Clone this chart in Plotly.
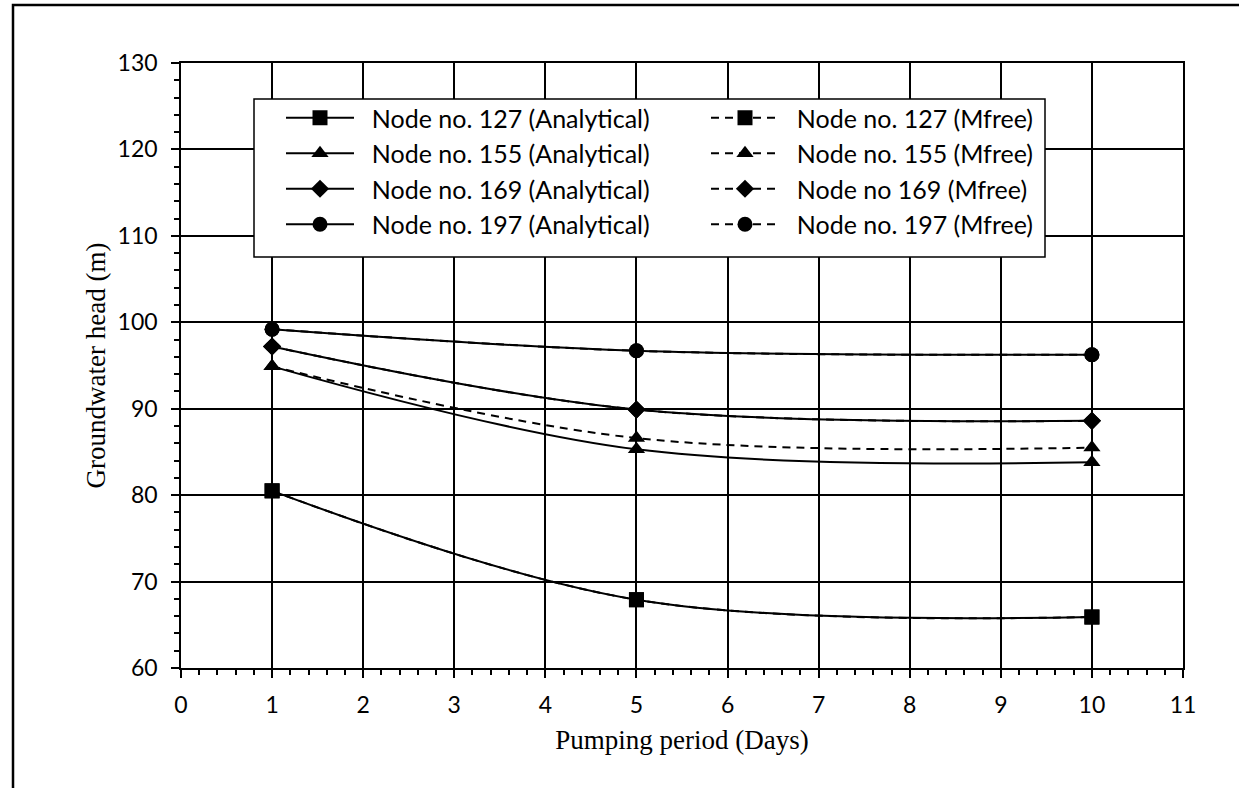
import plotly.graph_objects as go

days = [1, 5, 10]

a127 = [80.5, 67.9, 65.9]
a155 = [94.9, 85.3, 83.8]
a169 = [97.2, 89.9, 88.6]
a197 = [99.2, 96.7, 96.25]

m127 = [80.5, 67.9, 65.9]
m155 = [94.9, 86.6, 85.5]
m169 = [97.2, 89.9, 88.6]
m197 = [99.2, 96.7, 96.25]

names_a = ["Node no. 127 (Analytical)", "Node no. 155 (Analytical)",
           "Node no. 169 (Analytical)", "Node no. 197 (Analytical)"]
names_m = ["Node no. 127 (Mfree)", "Node no. 155 (Mfree)",
           "Node no 169 (Mfree)", "Node no. 197 (Mfree)"]
symbols = ["square", "triangle-up", "diamond", "circle"]
sizes = [15, 15, 14, 15]

x_ticks = list(range(0, 12))
y_ticks = list(range(60, 131, 10))

NB = "\u00a0\u00a0"

fig = go.Figure()
for a, m, na, nm, s, sz in zip([a127, a155, a169, a197], [m127, m155, m169, m197],
                               names_a, names_m, symbols, sizes):
    fig.add_trace(go.Scatter(x=days, y=a, name=NB + na, mode="lines+markers",
                             line=dict(color="black", width=2, shape="spline", smoothing=1),
                             marker=dict(symbol=s, size=sz, color="black")))
    fig.add_trace(go.Scatter(x=days, y=m, name=NB + nm, mode="lines+markers",
                             line=dict(color="black", width=2, shape="spline", smoothing=1,
                                       dash="8px,6px"),
                             marker=dict(symbol=s, size=sz, color="black")))

W, H = 1239, 788
L, R, T, B = 181, 56, 63, 120
pw, ph = W - L - R, H - T - B

def px_x(p):
    return (p - L) / pw

def px_y(p):
    return 1 - (p - T) / ph

fig.update_layout(
    width=W, height=H,
    margin=dict(l=L, r=R, t=T, b=B),
    paper_bgcolor="white", plot_bgcolor="white",
    font=dict(family="Lato", color="black", size=23),
    showlegend=True,
    legend=dict(orientation="h", x=px_x(281), y=px_y(95), xanchor="left", yanchor="top",
                bgcolor="rgba(0,0,0,0)", borderwidth=0,
                entrywidth=342, entrywidthmode="pixels", itemwidth=68,
                font=dict(family="Lato", size=25, color="black")),
    xaxis=dict(range=[0, 11], tickvals=x_ticks, ticks="outside", ticklen=8, tickwidth=1.5,
               tickcolor="black", showline=True, linecolor="black", linewidth=1.5, mirror=True,
               showgrid=True, gridcolor="black", gridwidth=1.5, zeroline=False,
               ticklabelstandoff=8,
               minor=dict(dtick=0.2, ticks="outside", ticklen=5, tickwidth=1.5, tickcolor="black",
                          showgrid=False),
               title=dict(text="Pumping period (Days)",
                          font=dict(family="Liberation Serif", size=27, color="black"),
                          standoff=13),
               tickfont=dict(family="Lato", size=23, color="black")),
    yaxis=dict(range=[60, 130], tickvals=y_ticks, ticks="outside", ticklen=8, tickwidth=1.5,
               tickcolor="black", showline=True, linecolor="black", linewidth=1.5, mirror=True,
               showgrid=True, gridcolor="black", gridwidth=1.5, zeroline=False,
               ticklabelstandoff=9,
               minor=dict(dtick=2, ticks="outside", ticklen=5, tickwidth=1.5, tickcolor="black",
                          showgrid=False),
               title=dict(text="Groundwater head (m)",
                          font=dict(family="Liberation Serif", size=27, color="black"),
                          standoff=4),
               tickfont=dict(family="Lato", size=23, color="black")),
    shapes=[
        dict(type="rect", xref="paper", yref="paper",
             x0=px_x(13), x1=px_x(1260), y0=px_y(810), y1=px_y(5),
             line=dict(color="black", width=2.5), layer="below"),
        dict(type="rect", xref="paper", yref="paper",
             x0=px_x(254), x1=px_x(1045), y0=px_y(257), y1=px_y(99),
             fillcolor="white", line=dict(color="black", width=1.5), layer="above"),
    ],
)

fig.write_html("out.html")
